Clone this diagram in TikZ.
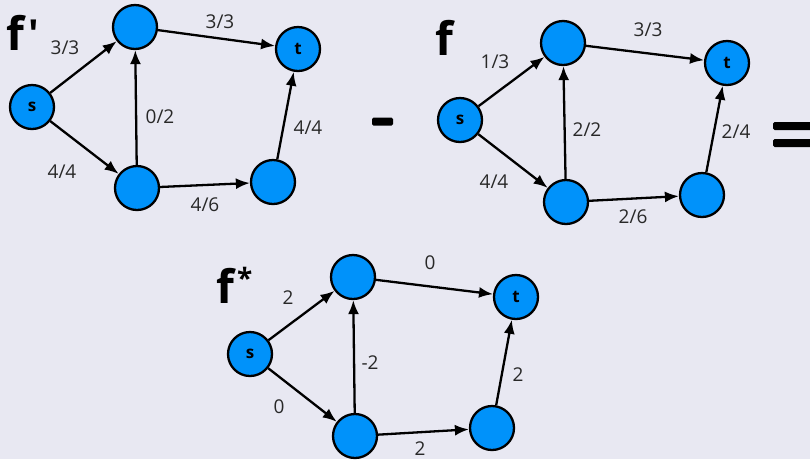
\documentclass[tikz,border=0pt]{standalone}
\usepackage{fontspec}
\setmainfont{Open Sans}
\usetikzlibrary{arrows.meta}
\definecolor{bg}{RGB}{232,232,242}
\definecolor{nodeblue}{RGB}{0,146,250}
\definecolor{lbltext}{RGB}{40,40,40}
\begin{document}
\begin{tikzpicture}[x=1pt,y=-1pt,
 vtx/.style={circle,draw=black,line width=2.3pt,fill=nodeblue,minimum size=44pt,inner sep=0pt,font=\fontsize{17}{17}\selectfont\bfseries},
 flow/.style={line width=2.3pt,-{Latex[length=14pt,width=11pt]}},
 lbl/.style={font=\fontsize{19}{19}\selectfont, text=lbltext, inner sep=0pt},
 big/.style={font=\fontsize{46}{46}\selectfont\bfseries, anchor=base west, inner sep=0pt},
 bar/.style={fill=black, rounded corners=1.5pt, inner sep=0pt, minimum height=8pt}]
\fill[bg] (0,0) rectangle (810,459);
\useasboundingbox (0,0) rectangle (810,459);
\clip (0,0) rectangle (810,459);

% ---------- graph f'
\node[big] (F1) at (6,50) {f\kern4pt\raisebox{2pt}{\fontsize{40}{40}\selectfont\textquotesingle}};
\node[vtx] (s1) at (32,107) {s};
\node[vtx] (a1) at (135,27) {};
\node[vtx] (t1) at (298,49) {t};
\node[vtx] (b1) at (137,188) {};
\node[vtx] (c1) at (273,182) {};
\draw[flow] (s1) -- (a1);
\draw[flow] (s1) -- (b1);
\draw[flow] (a1) -- (t1);
\draw[flow] (b1) -- (a1);
\draw[flow] (b1) -- (c1);
\draw[flow] (c1) -- (t1);
\node[lbl] (l1a) at (65,48) {3/3};
\node[lbl] (l1b) at (62,172) {4/4};
\node[lbl] (l1c) at (220,22) {3/3};
\node[lbl] (l1d) at (160,117) {0/2};
\node[lbl] (l1e) at (205,205) {4/6};
\node[lbl] (l1f) at (308,128) {4/4};

% ---------- minus
\node[bar, minimum width=21pt] (minus) at (382.5,121.5) {};

% ---------- graph f
\node[big] (F2) at (435,55) {f};
\node[vtx] (s2) at (460,120) {s};
\node[vtx] (a2) at (563,43) {};
\node[vtx] (t2) at (727,63) {t};
\node[vtx] (b2) at (566,202) {};
\node[vtx] (c2) at (702,195) {};
\draw[flow] (s2) -- (a2);
\draw[flow] (s2) -- (b2);
\draw[flow] (a2) -- (t2);
\draw[flow] (b2) -- (a2);
\draw[flow] (b2) -- (c2);
\draw[flow] (c2) -- (t2);
\node[lbl] (l2a) at (495,62) {1/3};
\node[lbl] (l2b) at (494,182) {4/4};
\node[lbl] (l2c) at (648,30) {3/3};
\node[lbl] (l2d) at (587,130) {2/2};
\node[lbl] (l2e) at (633,217) {2/6};
\node[lbl] (l2f) at (736,132) {2/4};

% ---------- equals
\node[bar, minimum width=44pt] (eq1) at (795,126) {};
\node[bar, minimum width=44pt] (eq2) at (795,143) {};

% ---------- graph f*
\node[big] (F3) at (216,303) {f\kern3pt\raisebox{15pt}{\fontsize{28}{28}\selectfont *}};
\node[vtx] (s3) at (250,354) {s};
\node[vtx] (a3) at (353,277) {};
\node[vtx] (t3) at (516,297) {t};
\node[vtx] (b3) at (355,436) {};
\node[vtx] (c3) at (492,428) {};
\draw[flow] (s3) -- (a3);
\draw[flow] (s3) -- (b3);
\draw[flow] (a3) -- (t3);
\draw[flow] (b3) -- (a3);
\draw[flow] (b3) -- (c3);
\draw[flow] (c3) -- (t3);
\node[lbl] (l3a) at (288,298) {2};
\node[lbl] (l3b) at (279,407) {0};
\node[lbl] (l3c) at (430,263) {0};
\node[lbl] (l3d) at (370,363) {-2};
\node[lbl] (l3e) at (420,448.5) {2};
\node[lbl] (l3f) at (518,375) {2};
\end{tikzpicture}
\end{document}
